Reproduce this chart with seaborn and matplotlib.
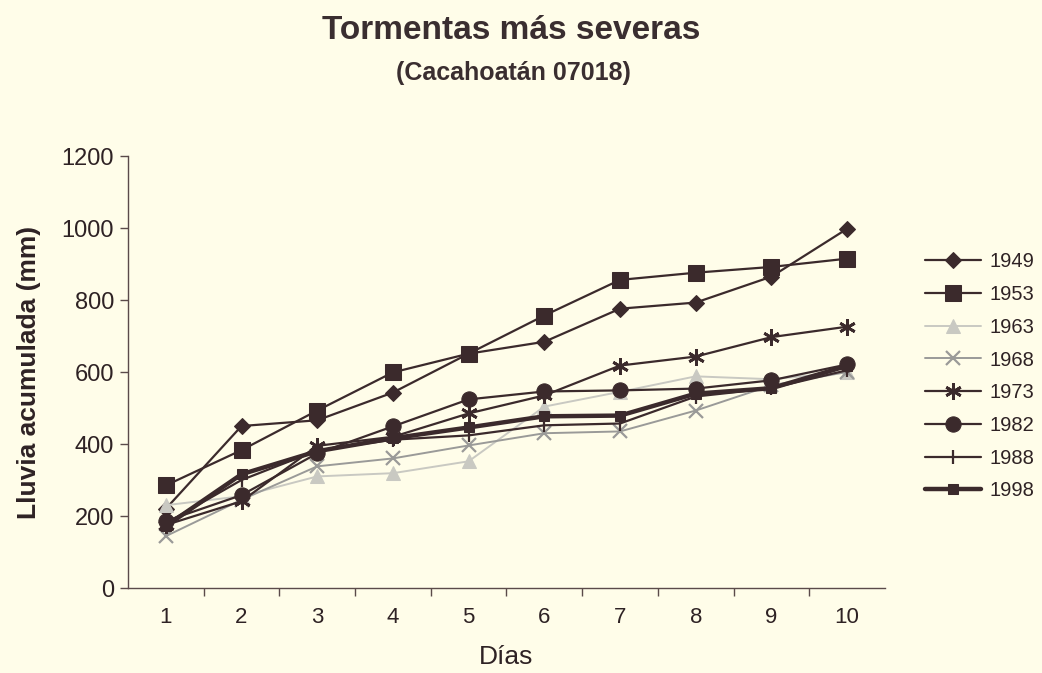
import numpy as np
import matplotlib
matplotlib.use("Agg")
import matplotlib.pyplot as plt
import seaborn as sns

# days and cumulative rainfall (mm) per storm year
dias = [1, 2, 3, 4, 5, 6, 7, 8, 9, 10]
years = ["1949", "1953", "1963", "1968", "1973", "1982", "1988", "1998"]
lluvia_1949 = [220, 450, 466, 543, 651, 684, 776, 793, 865, 998]
lluvia_1953 = [285, 383, 493, 599, 651, 757, 856, 876, 892, 915]
lluvia_1963 = [230, 255, 310, 319, 352, 504, 545, 588, 580, 600]
lluvia_1968 = [144, 245, 338, 360, 396, 430, 435, 493, 563, 600]
lluvia_1973 = [175, 241, 395, 420, 485, 535, 618, 643, 697, 726]
lluvia_1982 = [186, 258, 374, 449, 524, 546, 549, 554, 577, 621]
lluvia_1988 = [180, 300, 382, 412, 424, 452, 457, 532, 555, 605]
lluvia_1998 = [172, 316, 380, 416, 446, 477, 479, 540, 555, 617]
series = [lluvia_1949, lluvia_1953, lluvia_1963, lluvia_1968,
          lluvia_1973, lluvia_1982, lluvia_1988, lluvia_1998]

DARK = "#3b2a2c"
BG = "#fffde9"
TXT = "#2e2224"

# line / marker look for each year
styles = {
    "1949": dict(color=DARK, marker="D", markersize=8, linewidth=1.6),
    "1953": dict(color=DARK, marker="s", markersize=11, linewidth=1.6),
    "1963": dict(color="#c9c9c2", marker="^", markersize=10, linewidth=1.4),
    "1968": dict(color="#9a9a98", marker="x", markersize=10, linewidth=1.4, markeredgewidth=1.6),
    "1973": dict(color=DARK, marker=(6, 2, 0), markersize=12, linewidth=1.6, markeredgewidth=2),
    "1982": dict(color=DARK, marker="o", markersize=11, linewidth=1.6),
    "1988": dict(color=DARK, marker="|", markersize=10, linewidth=1.6, markeredgewidth=1.6),
    "1998": dict(color=DARK, marker="s", markersize=7, linewidth=3.2),
}

sns.set_theme(style="white")
plt.rcParams['font.family'] = ['Liberation Sans', 'DejaVu Sans']

fig = plt.figure(figsize=(10.42, 6.73), dpi=100, facecolor=BG)
ax = fig.add_axes([0.1228, 0.1263, 0.7265, 0.6418])
ax.set_facecolor(BG)

for yr, vals in zip(years, series):
    st = styles[yr]
    sns.lineplot(x=dias, y=vals, ax=ax, label=yr, markeredgecolor=st["color"],
                 markerfacecolor=st["color"], **st)

ax.set_xlim(0.5, 10.5)
ax.set_ylim(0, 1200)
ax.set_yticks([0, 200, 400, 600, 800, 1000, 1200])
ax.set_xticks(dias)
ax.set_xticks(np.arange(1.5, 10.5, 1), minor=True)
ax.tick_params(axis="x", which="major", length=0, pad=14, labelsize=16, colors=TXT)
ax.tick_params(axis="x", which="minor", length=6, width=1, color="#5a4a4a", direction="out", bottom=True)
ax.tick_params(axis="y", length=6, width=1, color="#5a4a4a", direction="out", left=True,
               labelsize=17, labelcolor=TXT, pad=4)

for s in ["top", "right"]:
    ax.spines[s].set_visible(False)
for s in ["left", "bottom"]:
    ax.spines[s].set_color("#5a4a4a")
    ax.spines[s].set_linewidth(1)

ax.set_xlabel("Días", fontsize=19, color=TXT, labelpad=12)
ax.set_ylabel("Lluvia acumulada (mm)", fontsize=19, fontweight="bold", color=TXT, labelpad=15)

fig.text(0.491, 0.955, "Tormentas más severas", ha="center", va="center",
         fontsize=24, fontweight="bold", color="#3a2e30")
fig.text(0.493, 0.891, "(Cacahoatán 07018)", ha="center", va="center",
         fontsize=18, fontweight="bold", color="#3a2e30")

leg = ax.legend(loc="center left", bbox_to_anchor=(1.037, 0.49), frameon=False,
                fontsize=14.5, handlelength=2.8, labelspacing=0.68, handletextpad=0.4,
                borderaxespad=0.2)
for t in leg.get_texts():
    t.set_color(TXT)

fig.savefig("out.png", dpi=100, facecolor=BG)
